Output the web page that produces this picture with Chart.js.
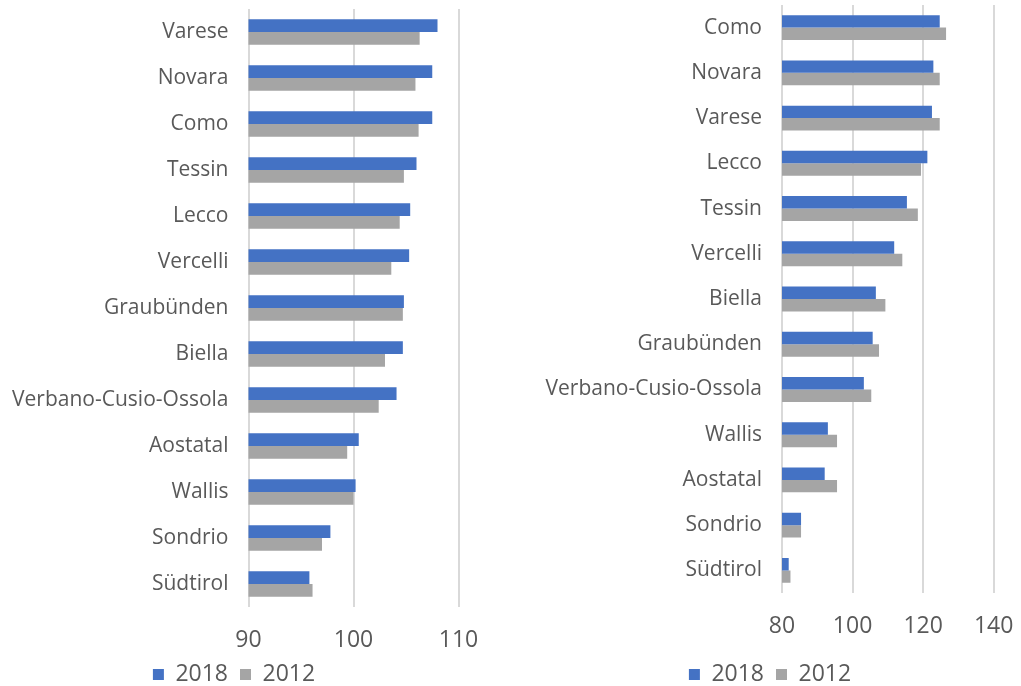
<!DOCTYPE html>
<html>
<head>
<meta charset="utf-8">
<script src="https://cdn.jsdelivr.net/npm/chart.js@4.4.0/dist/chart.umd.min.js"></script>
<style>
  html, body { margin: 0; padding: 0; background: #fff; overflow: hidden; }
  .box { position: absolute; top: 0; height: 696px; }
  #boxLinks { left: 0; width: 480px; }
  #boxRechts { left: 520px; width: 501px; }
</style>
</head>
<body>
<div class="box" id="boxLinks"><canvas id="chartLinks"></canvas></div>
<div class="box" id="boxRechts"><canvas id="chartRechts"></canvas></div>
<script>
// Linkes Diagramm
const regionenLinks = ['Varese', 'Novara', 'Como', 'Tessin', 'Lecco', 'Vercelli', 'Graubünden',
    'Biella', 'Verbano-Cusio-Ossola', 'Aostatal', 'Wallis', 'Sondrio', 'Südtirol'];
const links2018 = [108.0, 107.5, 107.5, 106.0, 105.4, 105.3, 104.8, 104.7, 104.1, 100.5, 100.2, 97.8, 95.8];
const links2012 = [106.3, 105.9, 106.2, 104.8, 104.4, 103.6, 104.7, 103.0, 102.4, 99.4, 100.0, 97.0, 96.1];
const ticksLinks = [90, 100, 110];

// Rechtes Diagramm
const regionenRechts = ['Como', 'Novara', 'Varese', 'Lecco', 'Tessin', 'Vercelli', 'Biella',
    'Graubünden', 'Verbano-Cusio-Ossola', 'Wallis', 'Aostatal', 'Sondrio', 'Südtirol'];
const rechts2018 = [124.7, 122.9, 122.5, 121.2, 115.4, 111.8, 106.6, 105.7, 103.2, 93.0, 92.1, 85.4, 81.9];
const rechts2012 = [126.5, 124.7, 124.7, 119.4, 118.5, 114.1, 109.3, 107.5, 105.3, 95.6, 95.6, 85.4, 82.4];
const ticksRechts = [80, 100, 120, 140];

const BLAU = '#4472C4';
const GRAU = '#A5A5A5';
const TEXT = '#595959';
const FONT = "'Open Sans', sans-serif";

function baueDiagramm(id, labels, werte2018, werte2012, ticks, opt) {
    const ctx = document.getElementById(id).getContext('2d');
    return new Chart(ctx, {
        type: 'bar',
        data: {
            labels: labels,
            datasets: [
                { label: '2018', data: werte2018, backgroundColor: BLAU },
                { label: '2012', data: werte2012, backgroundColor: GRAU }
            ]
        },
        options: {
            indexAxis: 'y',
            responsive: true,
            maintainAspectRatio: false,
            animation: false,
            categoryPercentage: 0.55,
            barPercentage: 1.0,
            // linker Rand negativ, damit die Legende unter dem Diagramm zentriert sitzt
            layout: { padding: { top: opt.top, right: 0, left: opt.left, bottom: 0 } },
            plugins: {
                tooltip: { enabled: false },
                legend: {
                    position: 'bottom',
                    labels: {
                        color: TEXT,
                        font: { family: FONT, size: 23 },
                        boxWidth: 11,
                        boxHeight: 11,
                        padding: 12
                    }
                }
            },
            scales: {
                x: {
                    min: ticks[0],
                    max: ticks[ticks.length - 1],
                    afterBuildTicks: (scale) => { scale.ticks = ticks.map(v => ({ value: v })); },
                    afterFit: (scale) => {
                        scale.height = opt.xHoehe;
                        scale.paddingLeft = 0;
                        scale.paddingRight = opt.rechts;
                    },
                    grid: { color: '#D9D9D9', lineWidth: 2, drawTicks: false },
                    border: { display: false },
                    ticks: { color: TEXT, font: { family: FONT, size: 23 }, padding: 20 }
                },
                y: {
                    afterFit: (scale) => {
                        scale.width = opt.yBreite;
                        scale.paddingTop = 0;
                        scale.paddingBottom = 0;
                    },
                    grid: { display: false, drawTicks: false },
                    border: { display: false },
                    ticks: { color: TEXT, font: { family: FONT, size: 21 }, padding: 20 }
                }
            }
        }
    });
}

baueDiagramm('chartLinks', regionenLinks, links2018, links2012, ticksLinks,
    { top: 9, left: -12, rechts: 21.5, yBreite: 260.5, xHoehe: 44 });
baueDiagramm('chartRechts', regionenRechts, rechts2018, rechts2012, ticksRechts,
    { top: 5, left: -1, rechts: 27.3, yBreite: 263, xHoehe: 58 });
</script>
</body>
</html>
